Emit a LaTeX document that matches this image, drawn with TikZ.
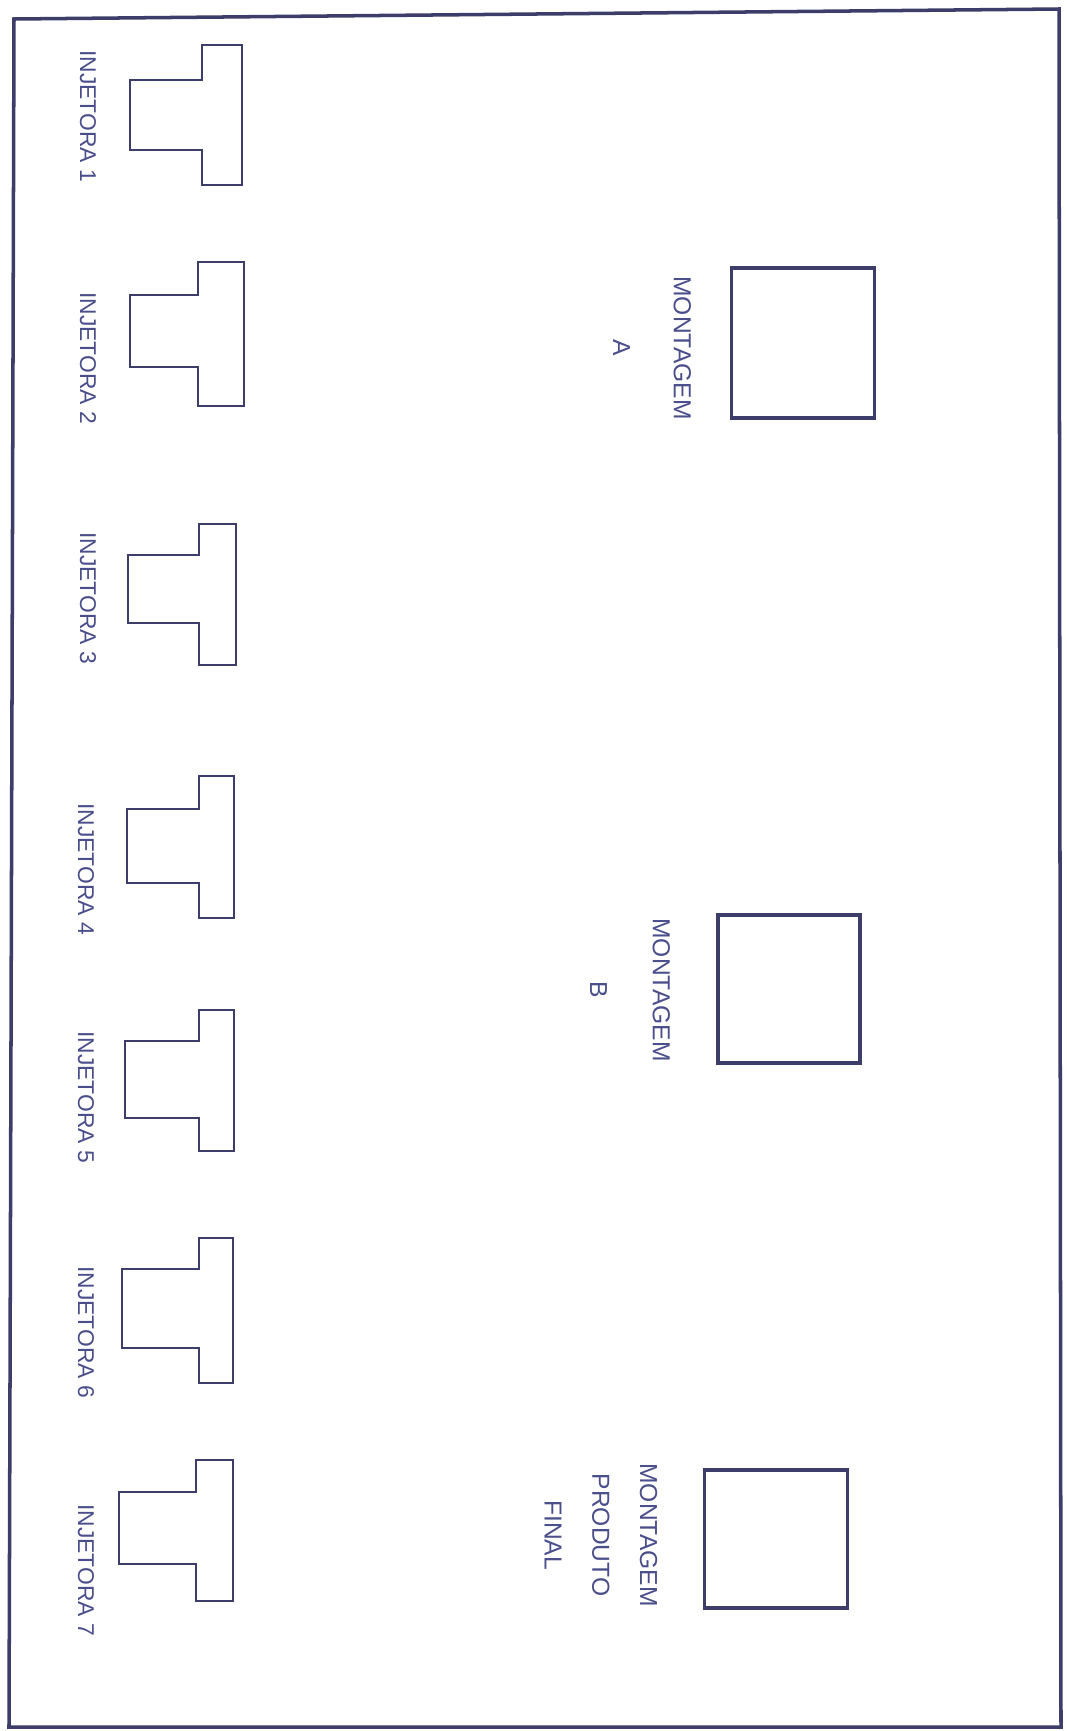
\documentclass[tikz,border=0pt]{standalone}
\usepackage{fontspec}
\setmainfont{Liberation Sans}
\usepackage{tikz}
\usetikzlibrary{positioning}
\definecolor{penInk}{HTML}{3C3D68}
\definecolor{penText}{HTML}{4A4E8A}

\begin{document}
\begin{tikzpicture}[x=0.02cm, y=-0.02cm,
  maquina/.style={line width=1.6pt, draw=penInk, line join=miter},
  posto/.style={draw=penInk, line width=2pt, inner sep=0pt},
  rotulo/.style={rotate=-90, text=penText, font=\fontsize{13}{15}\selectfont},
  rotuloM/.style={rotulo, align=center},
]
  % paper and frame
  \fill[white] (0,0) rectangle (1067,1731);
  \draw[penInk, line width=2pt] (14,19) -- (1059,9) -- (1061,1727) -- (9,1727) -- cycle;

  % Injetora 1
  \draw[maquina] (202,45) -- (242,45) -- (242,185) -- (202,185) -- (202,150) -- (130,150) -- (130,80) -- (202,80) -- cycle;
  \node[rotulo] (inj1) at (88,116) {INJETORA 1};
  % Injetora 2
  \draw[maquina] (198,262) -- (244,262) -- (244,406) -- (198,406) -- (198,367) -- (130,367) -- (130,295) -- (198,295) -- cycle;
  \node[rotulo] (inj2) at (88,358) {INJETORA 2};
  % Injetora 3
  \draw[maquina] (199,524) -- (236,524) -- (236,665) -- (199,665) -- (199,623) -- (128,623) -- (128,555) -- (199,555) -- cycle;
  \node[rotulo] (inj3) at (88,598) {INJETORA 3};
  % Injetora 4
  \draw[maquina] (199,776) -- (234,776) -- (234,918) -- (199,918) -- (199,883) -- (127,883) -- (127,809) -- (199,809) -- cycle;
  \node[rotulo] (inj4) at (86,869) {INJETORA 4};
  % Injetora 5
  \draw[maquina] (199,1010) -- (234,1010) -- (234,1151) -- (199,1151) -- (199,1118) -- (125,1118) -- (125,1041) -- (199,1041) -- cycle;
  \node[rotulo] (inj5) at (86,1097) {INJETORA 5};
  % Injetora 6
  \draw[maquina] (199,1238) -- (233,1238) -- (233,1383) -- (199,1383) -- (199,1348) -- (122,1348) -- (122,1269) -- (199,1269) -- cycle;
  \node[rotulo] (inj6) at (86,1332) {INJETORA 6};
  % Injetora 7
  \draw[maquina] (196,1460) -- (233,1460) -- (233,1601) -- (196,1601) -- (196,1564) -- (119,1564) -- (119,1492) -- (196,1492) -- cycle;
  \node[rotulo] (inj7) at (86,1570) {INJETORA 7};

  % Montagem A
  \node[posto, minimum width=2.86cm, minimum height=3.0cm] (montA) at (803,343) {};
  \node[rotuloM, font=\fontsize{14}{34.6}\selectfont] (lblA) at (652,348) {MONTAGEM\\A};
  % Montagem B
  \node[posto, minimum width=2.84cm, minimum height=2.96cm] (montB) at (789,989) {};
  \node[rotuloM, font=\fontsize{14}{35.7}\selectfont] (lblB) at (630,990) {MONTAGEM\\B};
  % Montagem produto final
  \node[posto, minimum width=2.86cm, minimum height=2.76cm] (montF) at (776,1539) {};
  \node[rotuloM, font=\fontsize{14}{27.2}\selectfont] (lblF) at (601,1535) {MONTAGEM\\PRODUTO\\FINAL};
\end{tikzpicture}
\end{document}
